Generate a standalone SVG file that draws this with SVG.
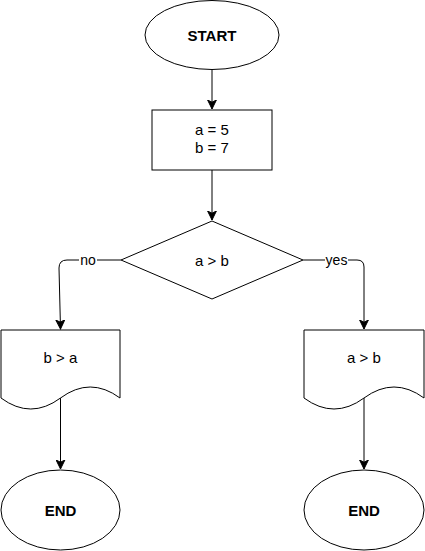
<svg xmlns="http://www.w3.org/2000/svg" width="425" height="551" viewBox="0 0 425 551">
  <defs>
    <marker id="arr" markerWidth="10" markerHeight="10" refX="9" refY="5" orient="auto" markerUnits="userSpaceOnUse">
      <path d="M9,5 L0,0.6 L2.2,5 L0,9.4 Z" fill="#000" stroke="#000" stroke-width="1"/>
    </marker>
  </defs>
  <style>
    .shape { fill: #fff; stroke: #000; stroke-width: 1; }
    .edge { fill: none; stroke: #000; stroke-width: 1; }
    .t { font-family: "Liberation Sans", Arial, sans-serif; font-size: 15px; fill: #000; text-anchor: middle; }
    .b { font-weight: bold; }
    .lbl { font-family: "Liberation Sans", Arial, sans-serif; font-size: 14px; fill: #000; text-anchor: middle; }
  </style>
  <rect width="425" height="551" fill="#fff"/>

  <g id="connectors">
    <path class="edge" d="M212,70 L212,109" marker-end="url(#arr)"/>
    <path class="edge" d="M212,170 L212,220" marker-end="url(#arr)"/>
    <path class="edge" d="M121,260 L67,260 Q59,260 59,268 L60.5,329" marker-end="url(#arr)"/>
    <path class="edge" d="M303,260 L357,260 Q364,260 364,267 L364,329" marker-end="url(#arr)"/>
    <path class="edge" d="M60.5,398 L60.5,469" marker-end="url(#arr)"/>
    <path class="edge" d="M364,398 L364,469" marker-end="url(#arr)"/>
    <g id="label-no">
      <rect x="79" y="252" width="18" height="16" fill="#fff"/>
      <text class="lbl" x="88" y="265">no</text>
    </g>
    <g id="label-yes">
      <rect x="325" y="252" width="23" height="16" fill="#fff"/>
      <text class="lbl" x="336.5" y="265">yes</text>
    </g>
  </g>

  <g id="start">
    <ellipse class="shape" cx="212" cy="35" rx="67" ry="34.5"/>
    <text class="t b" x="212" y="40.5">START</text>
  </g>

  <g id="assign">
    <rect class="shape" x="152" y="110" width="120" height="60"/>
    <text class="t" x="212" y="135">a = 5</text>
    <text class="t" x="212" y="153">b = 7</text>
  </g>

  <g id="decision">
    <polygon class="shape" points="212,221 303,260 212,299 121,260"/>
    <text class="t" x="212" y="265.5">a &gt; b</text>
  </g>

  <g id="doc-no">
    <path class="shape" d="M1,330 L120,330 L120,398 Q90.25,376 60.5,398 Q30.75,420 1,398 Z"/>
    <text class="t" x="60.5" y="363">b &gt; a</text>
  </g>

  <g id="doc-yes">
    <path class="shape" d="M304,330 L424,330 L424,398 Q394,376 364,398 Q334,420 304,398 Z"/>
    <text class="t" x="364" y="363">a &gt; b</text>
  </g>

  <g id="end-no">
    <ellipse class="shape" cx="60.5" cy="510" rx="59.5" ry="40"/>
    <text class="t b" x="60.5" y="515.5">END</text>
  </g>

  <g id="end-yes">
    <ellipse class="shape" cx="364" cy="510" rx="60" ry="40"/>
    <text class="t b" x="364" y="515.5">END</text>
  </g>
</svg>
